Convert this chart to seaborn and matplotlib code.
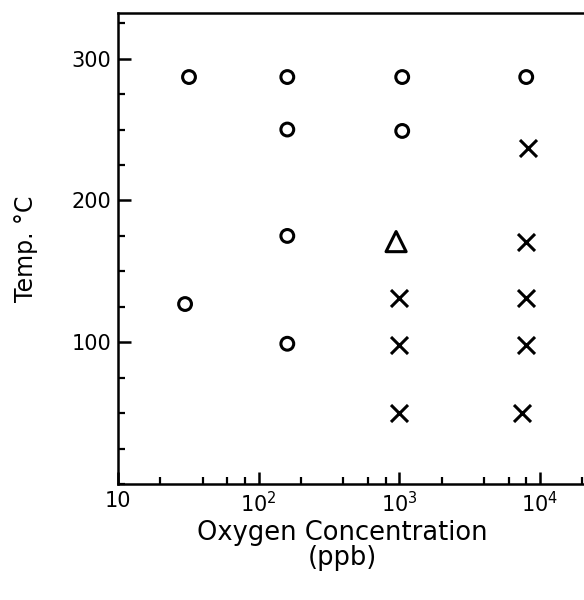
import matplotlib
matplotlib.use("Agg")
import matplotlib.pyplot as plt
import matplotlib.ticker as mticker
import seaborn as sns
import pandas as pd

# Data
circle_x = [32, 160, 1050, 8000, 160, 1050, 160, 30, 160]
circle_y = [287, 287, 287, 287, 250, 249, 175, 127, 99]
cross_x = [8300, 8000, 1000, 8000, 1000, 8000, 1000, 7500]
cross_y = [237, 171, 131, 131, 98, 98, 50, 50]
tri_x = [950]
tri_y = [171]

x_ticks = [10, 100, 1000, 10000]
x_ticklabels = ["10", "10$^2$", "10$^3$", "10$^4$"]
y_ticks = [100, 200, 300]

sns.set_style("white")
plt.rcParams["font.family"] = ["DejaVu Sans"]
plt.rcParams["text.color"] = "black"
plt.rcParams["axes.labelcolor"] = "black"
plt.rcParams["xtick.direction"] = "in"
plt.rcParams["ytick.direction"] = "in"
plt.rcParams["xtick.bottom"] = True
plt.rcParams["ytick.left"] = True

fig = plt.figure(figsize=(5.84, 6.0), dpi=100)
ax = fig.add_axes([0.202, 0.193, 0.80, 0.785])

df_c = pd.DataFrame({"x": circle_x, "y": circle_y})
df_x = pd.DataFrame({"x": cross_x, "y": cross_y})
df_t = pd.DataFrame({"x": tri_x, "y": tri_y})

sns.scatterplot(data=df_c, x="x", y="y", ax=ax, marker="o", s=85,
                facecolors="none", edgecolor="black", linewidth=2.2, zorder=3)
sns.scatterplot(data=df_x, x="x", y="y", ax=ax, marker="x", s=150,
                color="black", linewidth=2.2, zorder=3)
sns.scatterplot(data=df_t, x="x", y="y", ax=ax, marker="^", s=210,
                facecolors="none", edgecolor="black", linewidth=2.2, zorder=3)

ax.set_xscale("log")
ax.set_xlim(10, 21000)
ax.set_ylim(0, 332)

ax.set_xticks(x_ticks)
ax.set_xticklabels(x_ticklabels)
ax.xaxis.set_minor_locator(mticker.LogLocator(base=10, subs=[2, 4, 6, 8]))
ax.xaxis.set_minor_formatter(mticker.NullFormatter())
ax.set_yticks(y_ticks)
ax.yaxis.set_minor_locator(mticker.MultipleLocator(25))

ax.tick_params(axis="both", which="both", direction="in", bottom=True, left=True,
               top=False, right=False)
ax.tick_params(axis="both", which="major", length=9, width=1.8,
               labelsize=15, colors="black", labelcolor="black", pad=5)
ax.tick_params(axis="both", which="minor", length=5, width=1.6, colors="black")

for side in ["left", "bottom", "top"]:
    ax.spines[side].set_linewidth(1.8)
    ax.spines[side].set_color("black")
ax.spines["right"].set_visible(False)

ax.set_xlabel("Oxygen Concentration\n(ppb)", fontsize=18.5, linespacing=0.95)
ax.xaxis.set_label_coords(0.48, -0.075, transform=ax.transAxes)
ax.xaxis.label.set_verticalalignment("top")
ax.set_ylabel("Temp. °C", fontsize=17, labelpad=24)

fig.savefig("out.png", dpi=100)
